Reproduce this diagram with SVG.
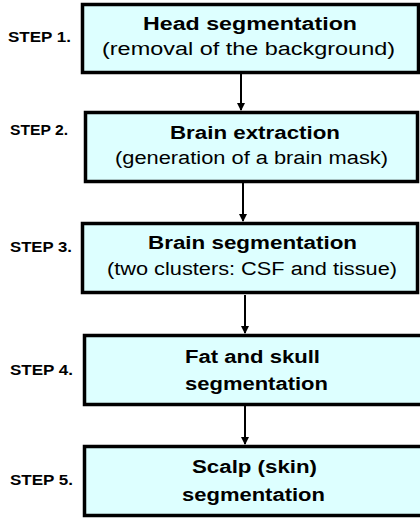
<svg xmlns="http://www.w3.org/2000/svg" width="420" height="518" viewBox="0 0 420 518">
<style>
.box{fill:#DDFFFF;stroke:#000;stroke-width:3.5}
.t{font-family:"Liberation Sans",Arial,sans-serif;font-size:18px;font-weight:bold;fill:#000}
.s{font-family:"Liberation Sans",Arial,sans-serif;font-size:18px;fill:#000}
.lab{font-family:"Liberation Sans",Arial,sans-serif;font-size:14px;font-weight:bold;fill:#000}
.c{stroke:#000;stroke-width:2;fill:none}
</style>
<defs>
<marker id="ah" markerWidth="8" markerHeight="8" refX="7" refY="4" orient="auto" markerUnits="userSpaceOnUse">
<path d="M0,0 L8,4 L0,8 Z" fill="#000"/>
</marker>
</defs>
<rect width="420" height="518" fill="#fff"/>
<g id="labels">
<text class="lab" x="8" y="42" textLength="63" lengthAdjust="spacingAndGlyphs">STEP 1.</text>
<text class="lab" x="10" y="135" textLength="58" lengthAdjust="spacingAndGlyphs">STEP 2.</text>
<text class="lab" x="10" y="252" textLength="62" lengthAdjust="spacingAndGlyphs">STEP 3.</text>
<text class="lab" x="10" y="375" textLength="63" lengthAdjust="spacingAndGlyphs">STEP 4.</text>
<text class="lab" x="10" y="485" textLength="63" lengthAdjust="spacingAndGlyphs">STEP 5.</text>
</g>
<g id="connectors">
<line class="c" x1="241" y1="74" x2="241" y2="110" marker-end="url(#ah)"/>
<line class="c" x1="243" y1="183" x2="243" y2="221" marker-end="url(#ah)"/>
<line class="c" x1="245" y1="295" x2="245" y2="333" marker-end="url(#ah)"/>
<line class="c" x1="245" y1="406" x2="245" y2="444" marker-end="url(#ah)"/>
</g>
<g id="step1">
<rect class="box" x="82.5" y="4.5" width="336" height="68"/>
<text class="t" x="143" y="30" textLength="214" lengthAdjust="spacingAndGlyphs">Head segmentation</text>
<text class="s" x="102" y="55" textLength="293" lengthAdjust="spacingAndGlyphs">(removal of the background)</text>
</g>
<g id="step2">
<rect class="box" x="85.5" y="112.5" width="332" height="69"/>
<text class="t" x="170" y="139" textLength="170" lengthAdjust="spacingAndGlyphs">Brain extraction</text>
<text class="s" x="115" y="164" textLength="273" lengthAdjust="spacingAndGlyphs">(generation of a brain mask)</text>
</g>
<g id="step3">
<rect class="box" x="82.5" y="223.5" width="335" height="69"/>
<text class="t" x="148" y="249" textLength="209" lengthAdjust="spacingAndGlyphs">Brain segmentation</text>
<text class="s" x="107" y="275" textLength="290" lengthAdjust="spacingAndGlyphs">(two clusters: CSF and tissue)</text>
</g>
<g id="step4">
<rect class="box" x="84.5" y="335.5" width="340" height="69"/>
<text class="t" x="185" y="363" textLength="135" lengthAdjust="spacingAndGlyphs">Fat and skull</text>
<text class="t" x="185" y="390" textLength="143" lengthAdjust="spacingAndGlyphs">segmentation</text>
</g>
<g id="step5">
<rect class="box" x="84.5" y="446.5" width="340" height="69"/>
<text class="t" x="192" y="473" textLength="125" lengthAdjust="spacingAndGlyphs">Scalp (skin)</text>
<text class="t" x="182" y="501" textLength="143" lengthAdjust="spacingAndGlyphs">segmentation</text>
</g>
</svg>
